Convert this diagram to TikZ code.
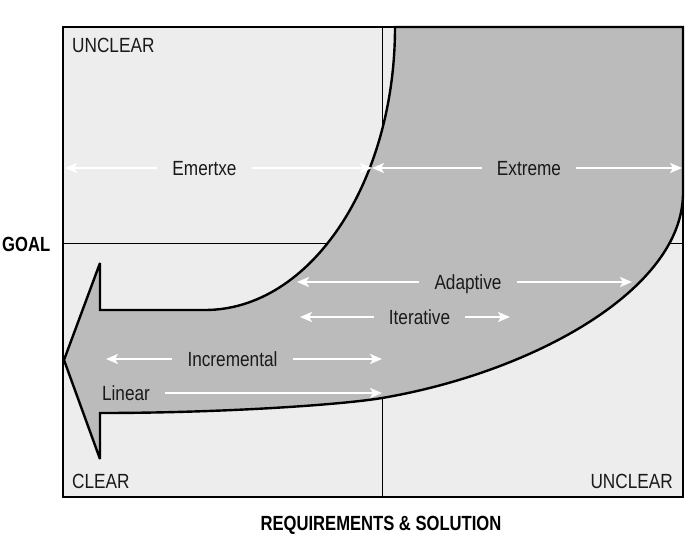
\documentclass[tikz,border=0pt]{standalone}
\usepackage{fontspec}
\setmainfont{Liberation Sans}[FakeStretch=0.84]
\newfontfamily\axisfont{Liberation Sans}[FakeStretch=0.81]
\usetikzlibrary{arrows.meta}
\definecolor{bgq}{HTML}{EDEDED}
\definecolor{arrowgray}{HTML}{BBBBBB}
\definecolor{ink}{HTML}{1A1A1A}
\begin{document}
\begin{tikzpicture}[x=1pt,y=-1pt,
  lbl/.style={font=\fontsize{20.5}{24}\selectfont, text=ink, inner xsep=15pt, inner ysep=0pt, text height=15pt, text depth=0pt},
  corner/.style={lbl, inner xsep=0pt},
  axislbl/.style={font=\axisfont\bfseries\fontsize{20.5}{24}\selectfont, text=black, inner sep=0pt, text height=15pt, text depth=0pt},
  warr/.style={draw=white, line width=1.8pt, -{Stealth[length=12pt,width=10pt,inset=3pt]}},
  bigarrow/.style={draw=black, line width=2.4pt, fill=arrowgray, line join=miter, miter limit=4},
  frame/.style={draw=black, line width=1.2pt},
  divider/.style={draw=black, line width=0.9pt}]
\useasboundingbox (0,0) rectangle (692,536);
% quadrant field
\fill[bgq] (63,27) rectangle (683,497);
\draw[divider] (382,27) -- (382,497);
\draw[divider] (63,243) -- (683,243);
\draw[frame] (63,27) rectangle (683,497);
% big bent arrow
\path[bigarrow] (395,27) -- (683,27) -- (683,193)
  .. controls (683,290) and (532,372.5) .. (382,398)
  .. controls (340,405) and (220,413) .. (100,413)
  -- (100,459) -- (64,360) -- (100,263) -- (100,310) -- (205,310)
  arc[start angle=270, end angle=360, x radius=190pt, y radius=283pt] -- cycle;
% corner and axis labels
\node[corner, anchor=west] (tl) at (72,45) {UNCLEAR};
\node[corner, anchor=west] (bl) at (72,481) {CLEAR};
\node[corner, anchor=east] (br) at (673,481) {UNCLEAR};
\node[axislbl, anchor=west] (goal) at (2,244) {GOAL};
\node[axislbl] (req) at (381,523) {REQUIREMENTS \& SOLUTION};
% arrow end points
\coordinate (emL) at (65,168);   \coordinate (emR) at (372,168);
\coordinate (exL) at (372,168);  \coordinate (exR) at (682,168);
\coordinate (adL) at (297,282);  \coordinate (adR) at (632,282);
\coordinate (itL) at (300,317);  \coordinate (itR) at (510,317);
\coordinate (inL) at (106,359);  \coordinate (inR) at (382,359);
\coordinate (liR) at (382,393);
% method labels
\node[lbl] (emertxe) at (204.5,168) {Emertxe};
\node[lbl] (extreme) at (529,168) {Extreme};
\node[lbl] (adaptive) at (468,282) {Adaptive};
\node[lbl] (iterative) at (419.5,317) {Iterative};
\node[lbl] (incremental) at (232.5,359) {Incremental};
\node[lbl] (linear) at (126,393) {Linear};
% white span arrows
\draw[warr] (emertxe.west) -- (emL);
\draw[warr] (emertxe.east) -- (emR);
\draw[warr] (extreme.west) -- (exL);
\draw[warr] (extreme.east) -- (exR);
\draw[warr] (adaptive.west) -- (adL);
\draw[warr] (adaptive.east) -- (adR);
\draw[warr] (iterative.west) -- (itL);
\draw[warr] (iterative.east) -- (itR);
\draw[warr] (incremental.west) -- (inL);
\draw[warr] (incremental.east) -- (inR);
\draw[warr] (linear.east) -- (liR);
\end{tikzpicture}
\end{document}
